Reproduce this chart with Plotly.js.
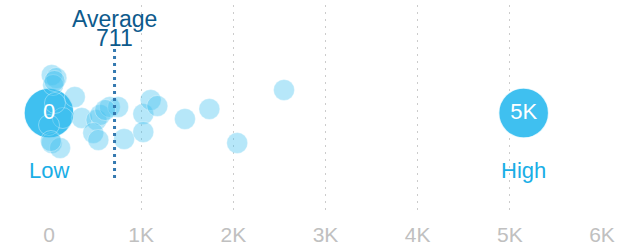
<!DOCTYPE html>
<html>
<head>
<meta charset="utf-8">
<script src="https://cdn.plot.ly/plotly-3.0.1.min.js"></script>
<style>html,body{margin:0;padding:0;background:#fff;}#chart{width:619px;height:250px;}</style>
</head>
<body>
<div id="chart"></div>
<script>
// Individual values (x) and their beeswarm lane offsets (y)
const pointValues = [30, 80, 45, 280, 355, 515, 555, 480, 535, 660, 750, 815, 1023, 1023, 1103, 1175, 1475, 1740, 2550, 2042, 30, 120, 150, 65, 0, 610, 60, 20];
const pointLanes  = [38, 35, 28, 16, -5, -7, -2, -20, -27, 6, 6, -26, -1, -19, 13, 7, -6, 4, 23, -30, -30, -35, -5, 10, -12, 3, 32, -28];
const extremeValues = [0, 5150];
const extremeLabels = ['0', '5K'];
const extremeNames = ['Low', 'High'];
const averageValue = 711;
const tickValues = [0, 1000, 2000, 3000, 4000, 5000, 6000];
const tickLabels = ['0', '1K', '2K', '3K', '4K', '5K', '6K'];

const bigColor = '#3fc0f0';
const fontFam = 'Liberation Sans, Arial, sans-serif';

const traces = [
  {
    x: extremeValues, y: extremeValues.map(() => 0),
    type: 'scatter', mode: 'markers', hoverinfo: 'skip', cliponaxis: false,
    marker: {size: 50, color: bigColor, line: {color: 'rgba(255,255,255,0.8)', width: 1.5}}
  },
  {
    x: pointValues, y: pointLanes,
    type: 'scatter', mode: 'markers', hoverinfo: 'skip', cliponaxis: false,
    marker: {size: 21, color: 'rgba(64,192,240,0.38)', line: {color: 'rgba(255,255,255,0.35)', width: 1}}
  },
  {
    x: extremeValues, y: extremeValues.map(() => 0),
    type: 'scatter', mode: 'text', text: extremeLabels, hoverinfo: 'skip', cliponaxis: false,
    textposition: 'middle center',
    textfont: {color: '#ffffff', size: 22, family: fontFam}
  }
];

const annotations = extremeValues.map((v, i) => ({
  x: v, y: -57, xref: 'x', yref: 'y', text: extremeNames[i], showarrow: false,
  font: {color: '#1aaee6', size: 22, family: fontFam}, xanchor: 'center', yanchor: 'middle'
}));
annotations.push({
  x: averageValue, y: 94, xref: 'x', yref: 'y', text: 'Average', showarrow: false,
  font: {color: '#0d5a8c', size: 23, family: fontFam}, xanchor: 'center', yanchor: 'middle'
});
annotations.push({
  x: averageValue, y: 75, xref: 'x', yref: 'y', text: String(averageValue), showarrow: false,
  font: {color: '#0d5a8c', size: 23, family: fontFam}, xanchor: 'center', yanchor: 'middle'
});

const layout = {
  width: 619, height: 250,
  margin: {l: 49, r: 17, t: 5, b: 35},
  paper_bgcolor: '#ffffff', plot_bgcolor: '#ffffff',
  showlegend: false,
  xaxis: {
    range: [0, 6000], tickvals: tickValues, ticktext: tickLabels,
    showgrid: true, gridcolor: '#cccccc', gridwidth: 1, griddash: '2px,5px',
    zeroline: false, showline: false, ticks: '', ticklabelstandoff: 5,
    tickfont: {color: '#c0c0c0', size: 21, family: fontFam},
    fixedrange: true
  },
  yaxis: {
    range: [-102, 108], showgrid: false, zeroline: false, showline: false,
    showticklabels: false, ticks: '', fixedrange: true
  },
  shapes: [{
    type: 'line', xref: 'x', yref: 'y',
    x0: averageValue, x1: averageValue, y0: -65, y1: 66,
    line: {color: '#3579b0', width: 3, dash: '3px,4px'}
  }],
  annotations: annotations
};

Plotly.newPlot('chart', traces, layout, {displayModeBar: false, staticPlot: true});
</script>
</body>
</html>
